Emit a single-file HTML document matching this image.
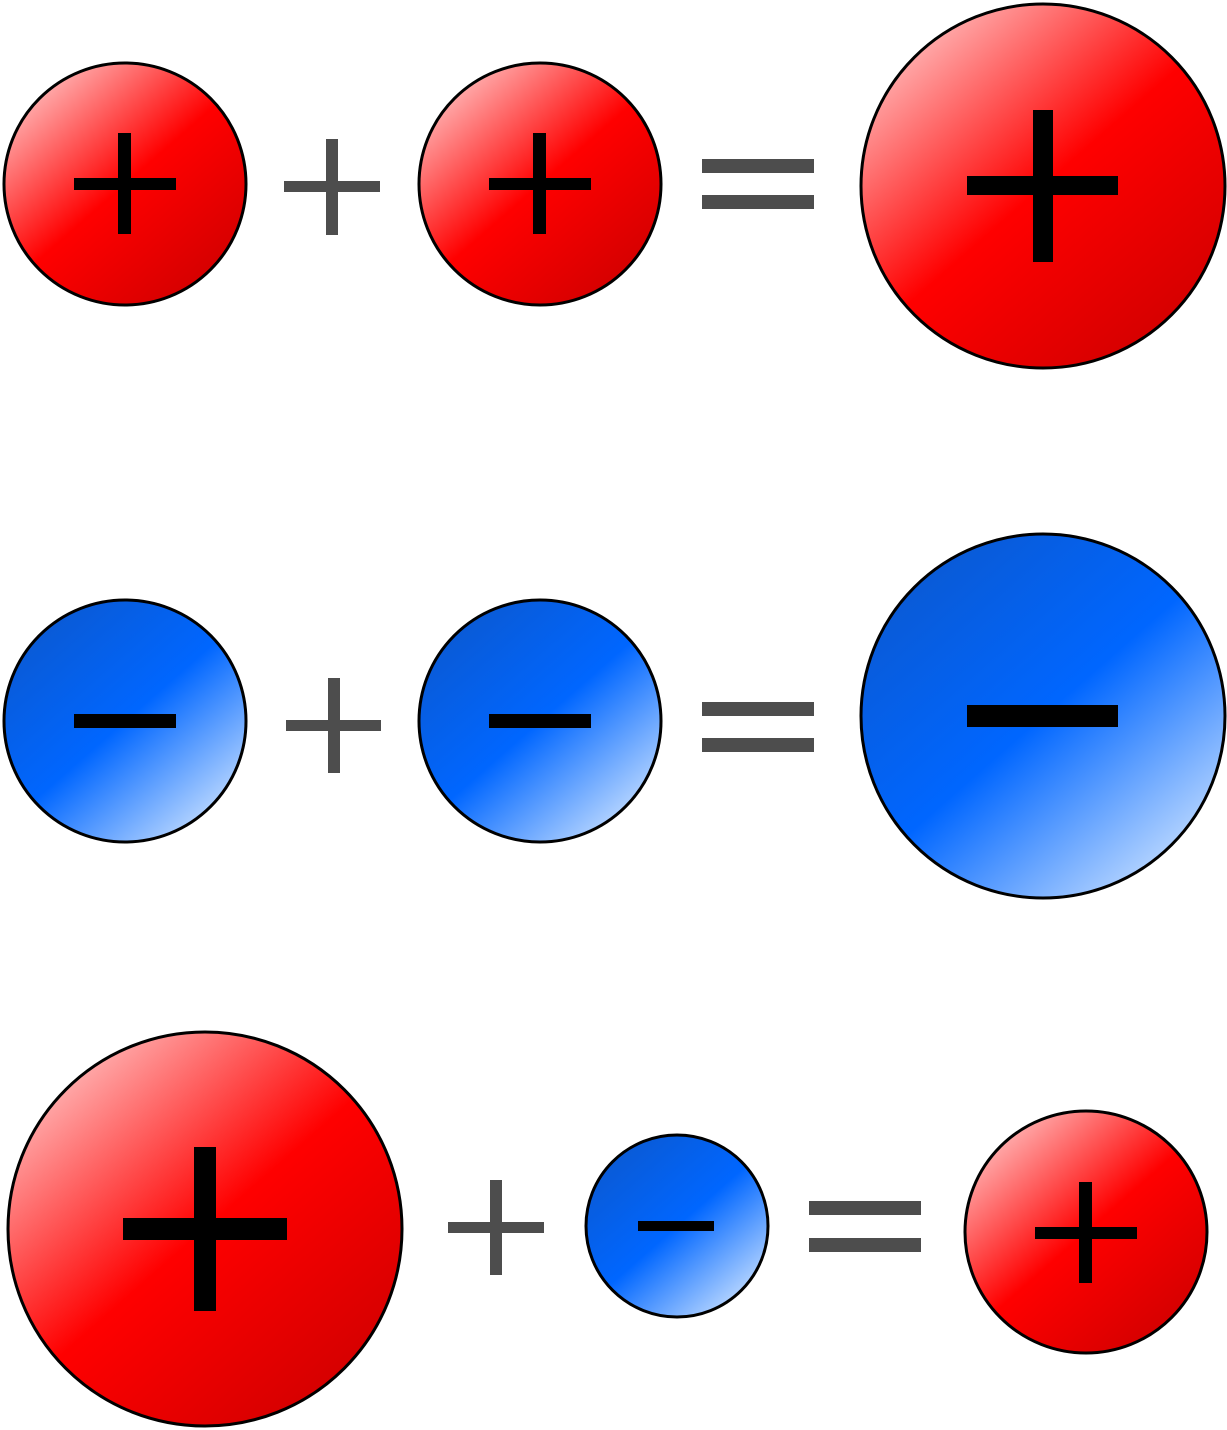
<!DOCTYPE html>
<html><head><meta charset="utf-8"><style>html,body{margin:0;padding:0;background:#fff}svg{display:block}</style></head>
<body>
<svg width="1227" height="1430" viewBox="0 0 1227 1430" xmlns="http://www.w3.org/2000/svg">
<defs>
<linearGradient id="red" x1="0.15" y1="0.1" x2="0.85" y2="0.9">
<stop offset="0" stop-color="#ffb0b0"/>
<stop offset="0.5" stop-color="#ff0000"/>
<stop offset="1" stop-color="#d40000"/>
</linearGradient>
<linearGradient id="blue" x1="0.15" y1="0.1" x2="0.85" y2="0.9">
<stop offset="0" stop-color="#0a5ad5"/>
<stop offset="0.5" stop-color="#0066ff"/>
<stop offset="1" stop-color="#b8d6ff"/>
</linearGradient>
</defs>
<g stroke="#000" stroke-width="3">
<circle cx="125" cy="184" r="121" fill="url(#red)"/>
<circle cx="540" cy="184" r="121" fill="url(#red)"/>
<circle cx="1043" cy="186" r="182" fill="url(#red)"/>
<circle cx="125" cy="721" r="121" fill="url(#blue)"/>
<circle cx="540" cy="721" r="121" fill="url(#blue)"/>
<circle cx="1043" cy="716" r="182" fill="url(#blue)"/>
<circle cx="205" cy="1229" r="197" fill="url(#red)"/>
<circle cx="677" cy="1226" r="91" fill="url(#blue)"/>
<circle cx="1086" cy="1232" r="121" fill="url(#red)"/>
</g>
<g fill="#000">
<rect x="74" y="178" width="102" height="12"/><rect x="118" y="133" width="13" height="101"/>
<rect x="489" y="178" width="102" height="12"/><rect x="533" y="133" width="13" height="101"/>
<rect x="967" y="176" width="151" height="19"/><rect x="1033" y="110" width="20" height="152"/>
<rect x="74" y="714" width="102" height="14"/>
<rect x="489" y="714" width="102" height="14"/>
<rect x="967" y="705" width="151" height="22"/>
<rect x="123" y="1218" width="164" height="22"/><rect x="194" y="1147" width="22" height="164"/>
<rect x="638" y="1221" width="76" height="10"/>
<rect x="1035" y="1227" width="102" height="12"/><rect x="1079" y="1182" width="13" height="101"/>
</g>
<g fill="#4d4d4d">
<rect x="284" y="181" width="96" height="11"/><rect x="326" y="139" width="12" height="96"/>
<rect x="702" y="159" width="112" height="14"/><rect x="702" y="195" width="112" height="14"/>
<rect x="286" y="720" width="95" height="11"/><rect x="328" y="678" width="12" height="95"/>
<rect x="702" y="702" width="112" height="14"/><rect x="702" y="738" width="112" height="14"/>
<rect x="448" y="1222" width="96" height="11"/><rect x="490" y="1180" width="12" height="95"/>
<rect x="809" y="1201" width="112" height="14"/><rect x="809" y="1238" width="112" height="14"/>
</g>
</svg>
</body></html>
